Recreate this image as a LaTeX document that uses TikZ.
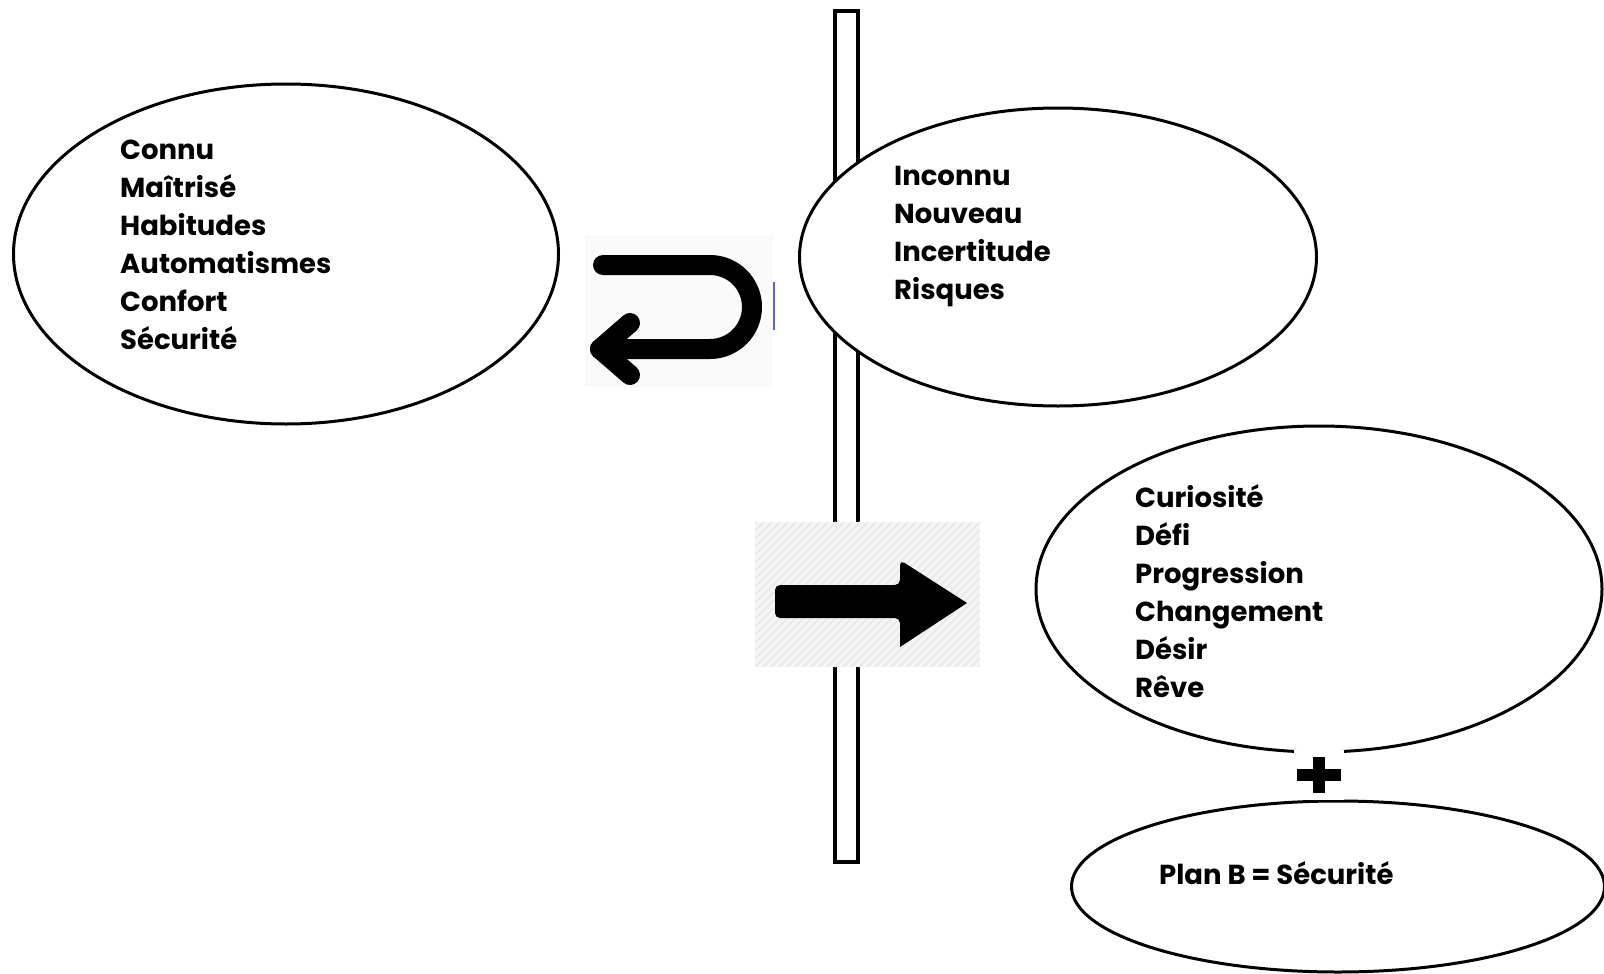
\documentclass[tikz,border=0pt]{standalone}
\usepackage{fontspec}
\setmainfont{Poppins}
\usetikzlibrary{shapes.geometric}
\begin{document}
\begin{tikzpicture}[x=1pt,y=-1pt,
  zone/.style={draw=black, line width=3pt, fill=white, ellipse, inner sep=0pt},
  word/.style={anchor=base west, inner sep=0pt, font=\fontsize{27.5}{32}\selectfont\bfseries},
  icon/.style={line width=20pt, line cap=round, line join=round}]
\useasboundingbox (0,0) rectangle (1604,974);
\fill[white] (0,0) rectangle (1604,974);

% vertical barrier
\node[draw=black, line width=3.5pt, minimum width=23pt, minimum height=851pt, inner sep=0pt] (bar) at (846.5,436.5) {};

% comfort zone
\node[zone, minimum width=545pt, minimum height=340pt] (known) at (286,254) {};
\foreach \t [count=\i] in {Connu, Maîtrisé, Habitudes, Automatismes, Confort, Sécurité}
  \node[word] (k\i) at (120,{121+38*\i}) {\t};

% unknown zone
\node[zone, minimum width=517pt, minimum height=298pt] (unknown) at (1058,257) {};
\foreach \t [count=\i] in {Inconnu, Nouveau, Incertitude, Risques}
  \node[word] (u\i) at (894,{147+38*\i}) {\t};

% motivation zone
\node[zone, minimum width=566pt, minimum height=326pt] (drive) at (1319,589) {};
\foreach \t [count=\i] in {Curiosité, Défi, Progression, Changement, Désir, Rêve}
  \node[word] (d\i) at (1135,{469+38*\i}) {\t};

% fallback plan
\node[zone, minimum width=533pt, minimum height=171pt] (planb) at (1338,886.5) {};
\node[word] (pb) at (1159,884) {Plan B = Sécurité};

% plus between the two lower zones
\node[fill=white, minimum width=50pt, minimum height=50pt, inner sep=0pt] (plus) at (1319,775) {};
\fill[black] ([xshift=-22pt,yshift=-6pt]plus.center) rectangle ([xshift=22pt,yshift=6pt]plus.center);
\fill[black] ([xshift=-6pt,yshift=-18pt]plus.center) rectangle ([xshift=6pt,yshift=18pt]plus.center);

% U-turn back to the comfort zone
\node[fill=black!2, minimum width=188pt, minimum height=152pt, inner sep=0pt] (uturn) at (679,311) {};
\draw[icon] (603,265) -- (710,265) arc[start angle=-90, end angle=90, radius=42] -- (600,349);
\draw[icon] (630,323) -- (600,349) -- (630,375);
\draw[line width=2pt, draw={rgb,255:red,90;green,100;blue,200}] (774,282) -- (774,330);

% forward arrow across the barrier
\node[minimum width=225pt, minimum height=145pt, inner sep=0pt, fill=black!4] (fwd) at (867.5,594.5) {};
\begin{scope}
  \clip (fwd.north west) rectangle (fwd.south east);
  \foreach \k in {-200,-192,...,240}
    \draw[black!9, line width=1.5pt] (755+\k,667) -- (900+\k,522);
\end{scope}
\fill[black, rounded corners=5pt] (775,585) -- (900,585) -- (900,560) [sharp corners] -- (967,603) -- (900,647) [rounded corners=5pt] -- (900,618) -- (775,618) -- cycle;
\end{tikzpicture}
\end{document}
